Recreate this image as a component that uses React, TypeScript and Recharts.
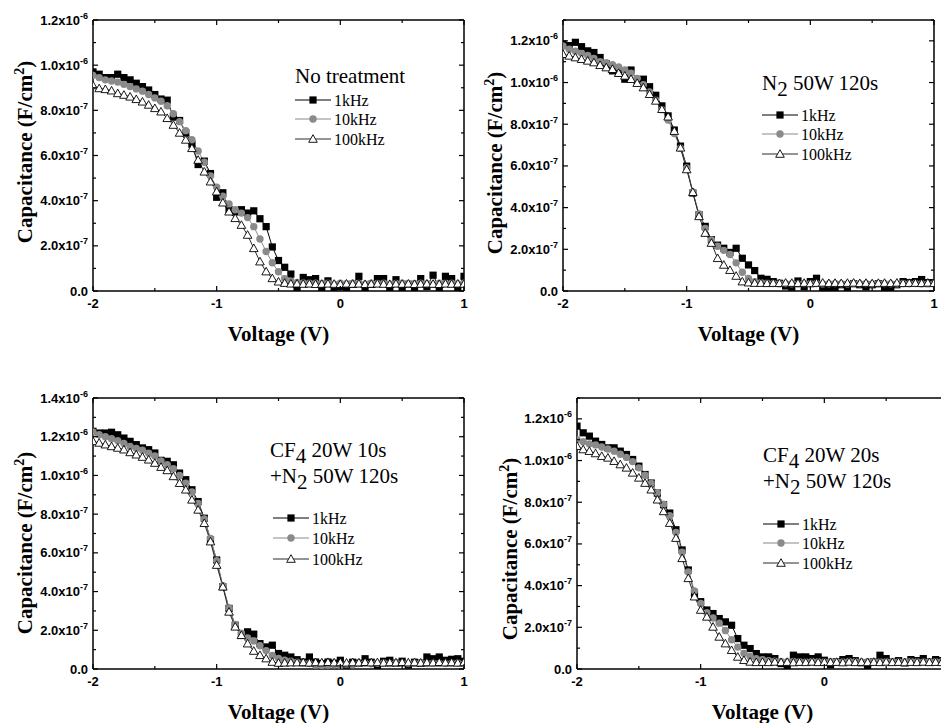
import React from 'react';
import { LineChart, Line, XAxis, YAxis } from 'recharts';

// gate voltage (V)
const voltage = [
  -2, -1.95, -1.9, -1.85, -1.8, -1.75, -1.7, -1.65, -1.6, -1.55,
  -1.5, -1.45, -1.4, -1.35, -1.3, -1.25, -1.2, -1.15, -1.1, -1.05,
  -1, -0.95, -0.9, -0.85, -0.8, -0.75, -0.7, -0.65, -0.6, -0.55,
  -0.5, -0.45, -0.4, -0.35, -0.3, -0.25, -0.2, -0.15, -0.1, -0.05,
  0, 0.05, 0.1, 0.15, 0.2, 0.25, 0.3, 0.35, 0.4, 0.45,
  0.5, 0.55, 0.6, 0.65, 0.7, 0.75, 0.8, 0.85, 0.9, 0.95,
  1,
];

const seriesNames = ['1kHz', '10kHz', '100kHz'];

// capacitance, in units of 1e-7 F/cm2
const noTreat1k = [
  9.7, 9.6, 9.45, 9.45, 9.6, 9.45, 9.35, 9.2, 9.05, 8.9,
  8.7, 8.5, 8.45, 7.7, 7.55, 7.0, 6.5, 5.6, 5.75, 5.2,
  4.15, 4.35, 3.6, 3.5, 3.6, 3.45, 3.55, 3.2, 2.85, 1.95,
  1.35, 1.05, 0.75, 0.15, 0.6, 0.5, 0.55, 0.15, 0.45, 0.1,
  0.2, 0.1, 0.3, 0.65, 0.1, 0.3, 0.55, 0.55, 0.15, 0.5,
  0.1, 0.3, 0.1, 0.55, 0.2, 0.7, 0.15, 0.65, 0.55, 0.1,
  0.65,
];
const noTreat10k = [
  9.55, 9.45, 9.35, 9.3, 9.25, 9.15, 9.05, 8.95, 8.85, 8.7,
  8.55, 8.4, 8.2, 7.85, 7.5, 7.1, 6.7, 6.2, 5.7, 5.1,
  4.6, 4.2, 3.85, 3.6, 3.45, 3.25, 2.85, 2.3, 1.75, 1.25,
  0.85, 0.55, 0.42, 0.38, 0.36, 0.35, 0.35, 0.33, 0.35, 0.3,
  0.34, 0.32, 0.35, 0.33, 0.3, 0.34, 0.33, 0.35, 0.3, 0.33,
  0.34, 0.3, 0.33, 0.35, 0.32, 0.3, 0.34, 0.33, 0.35, 0.32,
  0.34,
];
const noTreat100k = [
  9.1, 8.97, 8.93, 8.87, 8.75, 8.68, 8.6, 8.49, 8.38, 8.24,
  8.09, 7.94, 7.65, 7.35, 7.0, 6.69, 6.32, 5.8, 5.28, 4.84,
  4.4, 3.91, 3.51, 3.22, 2.92, 2.48, 1.89, 1.3, 0.86, 0.56,
  0.41, 0.35, 0.32, 0.32, 0.31, 0.32, 0.3, 0.31, 0.32, 0.31,
  0.3, 0.32, 0.31, 0.32, 0.3, 0.31, 0.32, 0.31, 0.3, 0.32,
  0.31, 0.32, 0.3, 0.31, 0.32, 0.31, 0.3, 0.32, 0.31, 0.32,
  0.31,
];

const n2_1k = [
  11.85, 11.77, 11.93, 11.72, 11.52, 11.44, 11.2, 10.9, 10.56, 10.45,
  10.16, 10.6, 10.08, 10.16, 9.8, 9.39, 8.88, 8.4, 7.72, 6.95,
  5.99, 4.7, 3.66, 3.1, 2.46, 2.2, 2.05, 1.85, 2.05, 1.57,
  1.25, 0.98, 0.61, 0.56, 0.45, 0.37, 0.24, 0.18, 0.48, 0.2,
  0.45, 0.61, 0.13, 0.15, 0.1, 0.3, 0.15, 0.35, 0.3, 0.2,
  0.3, 0.35, 0.1, 0.15, 0.3, 0.45, 0.4, 0.45, 0.55, 0.4,
  0.4,
];
const n2_10k = [
  11.75, 11.6, 11.5, 11.4, 11.3, 11.15, 11.0, 10.95, 10.85, 10.75,
  10.6, 10.45, 10.2, 9.9, 9.55, 9.15, 8.7, 8.2, 7.55, 6.85,
  5.9, 4.75, 3.7, 3.0, 2.45, 2.15, 1.95, 1.75, 1.35, 0.9,
  0.6, 0.45, 0.4, 0.37, 0.36, 0.35, 0.36, 0.35, 0.34, 0.36,
  0.35, 0.36, 0.34, 0.35, 0.36, 0.35, 0.34, 0.36, 0.35, 0.36,
  0.34, 0.35, 0.36, 0.35, 0.34, 0.36, 0.35, 0.36, 0.35, 0.34,
  0.35,
];
const n2_100k = [
  11.36, 11.28, 11.2, 11.12, 11.04, 10.96, 10.83, 10.72, 10.64, 10.45,
  10.32, 10.16, 9.97, 9.76, 9.44, 9.12, 8.72, 8.36, 7.67, 6.87,
  5.83, 4.74, 3.58, 2.78, 2.3, 1.57, 1.25, 1.0, 0.72, 0.45,
  0.4, 0.38, 0.38, 0.37, 0.38, 0.37, 0.39, 0.38, 0.37, 0.38,
  0.36, 0.38, 0.39, 0.37, 0.38, 0.37, 0.38, 0.39, 0.37, 0.38,
  0.36, 0.38, 0.38, 0.37, 0.39, 0.37, 0.38, 0.38, 0.37, 0.39,
  0.37,
];

const cf10_1k = [
  12.28, 12.19, 12.19, 12.23, 12.1, 11.93, 11.76, 11.59, 11.42, 11.33,
  11.16, 10.78, 10.73, 10.55, 10.12, 9.78, 9.26, 8.65, 7.79, 6.67,
  5.63, 4.25, 3.13, 2.26, 1.74, 1.92, 1.8, 1.31, 1.14, 1.23,
  0.8, 0.71, 0.62, 0.48, 0.36, 0.62, 0.36, 0.28, 0.36, 0.3,
  0.45, 0.2, 0.35, 0.3, 0.53, 0.35, 0.15, 0.4, 0.45, 0.3,
  0.4, 0.2, 0.35, 0.3, 0.62, 0.53, 0.62, 0.45, 0.5, 0.53,
  0.4,
];
const cf10_10k = [
  12.25, 12.1, 12.0, 11.9, 11.8, 11.65, 11.5, 11.4, 11.3, 11.15,
  11.0, 10.75, 10.55, 10.35, 10.0, 9.6, 9.15, 8.55, 7.75, 6.75,
  5.6, 4.3, 3.15, 2.3, 1.85, 1.6, 1.45, 1.2, 0.95, 0.7,
  0.55, 0.45, 0.4, 0.35, 0.3, 0.28, 0.2, 0.18, 0.2, 0.22,
  0.2, 0.25, 0.22, 0.28, 0.3, 0.27, 0.3, 0.31, 0.28, 0.3,
  0.29, 0.28, 0.3, 0.31, 0.28, 0.3, 0.29, 0.28, 0.3, 0.31,
  0.28,
];
const cf10_100k = [
  11.76, 11.68, 11.59, 11.5, 11.42, 11.33, 11.19, 11.07, 10.95, 10.81,
  10.64, 10.43, 10.26, 9.95, 9.6, 9.26, 8.74, 8.22, 7.53, 6.58,
  5.37, 4.25, 2.95, 2.18, 1.74, 1.31, 0.93, 0.71, 0.54, 0.36,
  0.31, 0.32, 0.33, 0.33, 0.34, 0.32, 0.34, 0.33, 0.35, 0.33,
  0.34, 0.32, 0.34, 0.33, 0.35, 0.33, 0.34, 0.32, 0.34, 0.33,
  0.35, 0.33, 0.34, 0.32, 0.34, 0.33, 0.35, 0.33, 0.34, 0.32,
  0.34,
];

const cf20_1k = [
  11.65, 11.33, 11.17, 10.93, 10.77, 10.61, 10.61, 10.45, 10.29, 10.05,
  9.73, 9.33, 8.92, 8.44, 7.88, 7.48, 6.68, 5.71, 4.75, 3.63,
  3.23, 2.83, 2.66, 2.42, 2.26, 2.1, 1.46, 1.14, 0.98, 0.74,
  0.58, 0.58, 0.5, 0.26, 0.1, 0.66, 0.58, 0.58, 0.5, 0.58,
  0.42, 0.2, 0.35, 0.45, 0.5, 0.4, 0.3, 0.1, 0.35, 0.66,
  0.5, 0.35, 0.4, 0.3, 0.45, 0.4, 0.5, 0.35, 0.45, 0.4,
  0.35,
];
const cf20_10k = [
  11.0, 10.9, 10.8, 10.75, 10.65, 10.55, 10.45, 10.3, 10.15, 9.95,
  9.65, 9.3, 8.9, 8.45, 7.9, 7.35, 6.55, 5.6, 4.65, 3.75,
  3.15, 2.7, 2.45, 2.2, 1.85, 1.4, 1.05, 0.75, 0.6, 0.5,
  0.45, 0.4, 0.38, 0.36, 0.35, 0.36, 0.35, 0.34, 0.36, 0.35,
  0.34, 0.36, 0.35, 0.34, 0.36, 0.35, 0.34, 0.35, 0.36, 0.34,
  0.35, 0.36, 0.34, 0.35, 0.36, 0.35, 0.34, 0.36, 0.35, 0.34,
  0.35,
];
const cf20_100k = [
  10.69, 10.53, 10.45, 10.34, 10.21, 10.13, 9.97, 9.81, 9.65, 9.41,
  9.17, 8.92, 8.6, 8.12, 7.56, 7.0, 6.28, 5.31, 4.35, 3.47,
  2.83, 2.5, 2.02, 1.54, 1.22, 0.9, 0.58, 0.42, 0.34, 0.32,
  0.33, 0.32, 0.34, 0.32, 0.33, 0.31, 0.33, 0.32, 0.34, 0.32,
  0.33, 0.32, 0.33, 0.31, 0.34, 0.32, 0.33, 0.32, 0.33, 0.32,
  0.34, 0.32, 0.33, 0.31, 0.33, 0.32, 0.34, 0.32, 0.33, 0.32,
  0.33,
];

const xTicks = [-2, -1.5, -1, -0.5, 0, 0.5, 1];
const xTickLabels = ['-2', '', '-1', '', '0', '', '1'];

// y tick labels indexed by tick value (1e-7 units)
const yTickText = ['0.0', '', '2.0x10', '', '4.0x10', '', '6.0x10', '', '8.0x10', '', '1.0x10', '', '1.2x10', '', '1.4x10'];
const yTickExp = ['', '', '-7', '', '-7', '', '-7', '', '-7', '', '-6', '', '-6', '', '-6'];

const colors = ['#000000', '#8a8a8a', '#2a2a2a'];
const SANS = '"Liberation Sans", Arial, sans-serif';
const SERIF = '"Liberation Serif", "Times New Roman", serif';

const PAGE_W = 941;
const CHART_W = 470;
const CHART_H = 360;

type Seg = { t: string; sub?: boolean };

interface Panel {
  left: number;
  top: number;
  yMax: number;
  series: number[][];
  title: Seg[][];
  titleX: number;
  titleY: number[];
  legX: number;
  legY: number[];
  yTitle: [number, number];
}

const panels: Panel[] = [
  {
    left: 0, top: 0, yMax: 12,
    series: [noTreat1k, noTreat10k, noTreat100k],
    title: [[{ t: 'No treatment' }]],
    titleX: 295, titleY: [83],
    legX: 295, legY: [100, 119, 139],
    yTitle: [25, 152],
  },
  {
    left: 470, top: 0, yMax: 13,
    series: [n2_1k, n2_10k, n2_100k],
    title: [[{ t: 'N' }, { t: '2', sub: true }, { t: ' 50W 120s' }]],
    titleX: 292, titleY: [90],
    legX: 292, legY: [115, 134, 154],
    yTitle: [25, 163],
  },
  {
    left: 0, top: 378, yMax: 14,
    series: [cf10_1k, cf10_10k, cf10_100k],
    title: [
      [{ t: 'CF' }, { t: '4', sub: true }, { t: ' 20W 10s' }],
      [{ t: '+N' }, { t: '2', sub: true }, { t: ' 50W 120s' }],
    ],
    titleX: 270, titleY: [79, 105],
    legX: 273, legY: [140, 160, 181],
    yTitle: [25, 165],
  },
  {
    left: 484, top: 378, yMax: 13,
    series: [cf20_1k, cf20_10k, cf20_100k],
    title: [
      [{ t: 'CF' }, { t: '4', sub: true }, { t: ' 20W 20s' }],
      [{ t: '+N' }, { t: '2', sub: true }, { t: ' 50W 120s' }],
    ],
    titleX: 279, titleY: [84, 110],
    legX: 279, legY: [146, 165, 185],
    yTitle: [26, 171],
  },
];

const Square = ({ cx, cy }: { cx: number; cy: number }) => (
  <rect x={cx - 3.6} y={cy - 3.6} width={7.2} height={7.2} fill="#000" />
);
const Round = ({ cx, cy }: { cx: number; cy: number }) => (
  <circle cx={cx} cy={cy} r={3.7} fill="#8a8a8a" />
);
const Tri = ({ cx, cy }: { cx: number; cy: number }) => (
  <polygon
    points={`${cx},${cy - 4.3} ${cx - 4.3},${cy + 3.3} ${cx + 4.3},${cy + 3.3}`}
    fill="#fff"
    stroke="#000"
    strokeWidth={0.9}
  />
);
const markers = [Square, Round, Tri];

const BottomTick = (props: any) => {
  const { x, y, payload, pageX } = props;
  const i = xTicks.indexOf(payload.value);
  const label = xTickLabels[i];
  // labels that would fall past the page edge are not drawn (as in the source figure)
  const showLabel = label && pageX + x + 6 <= PAGE_W;
  return (
    <g>
      <line x1={x} y1={y} x2={x} y2={y - (label ? 5 : 3)} stroke="#000" strokeWidth={1.2} />
      {showLabel && (
        <text x={x} y={y + 17} textAnchor="middle" fontFamily={SANS} fontWeight="bold" fontSize={13} fill="#000">
          {label}
        </text>
      )}
    </g>
  );
};

const TopTick = (props: any) => {
  const { x, y, payload } = props;
  const major = xTickLabels[xTicks.indexOf(payload.value)] !== '';
  return <line x1={x} y1={y} x2={x} y2={y + (major ? 5 : 3)} stroke="#000" strokeWidth={1.2} />;
};

const LeftTick = (props: any) => {
  const { x, y, payload } = props;
  const v = payload.value;
  const text = yTickText[v];
  const exp = yTickExp[v];
  return (
    <g>
      <line x1={x} y1={y} x2={x + (text ? 5 : 3)} y2={y} stroke="#000" strokeWidth={1.2} />
      {text && (
        <text x={x - 5} y={y + 4.5} textAnchor="end" fontFamily={SANS} fontWeight="bold" fontSize={13} fill="#000">
          {exp ? (
            <>
              <tspan>{text}</tspan>
              <tspan fontSize={9} dy={-6}>{exp}</tspan>
            </>
          ) : (
            text
          )}
        </text>
      )}
    </g>
  );
};

const RightTick = (props: any) => {
  const { x, y, payload } = props;
  const major = yTickText[payload.value] !== '';
  return <line x1={x} y1={y} x2={x - (major ? 5 : 3)} y2={y} stroke="#000" strokeWidth={1.2} />;
};

const TitleLine = ({ segs, x, y }: { segs: Seg[]; x: number; y: number }) => (
  <text x={x} y={y} fontFamily={SERIF} fontSize={21} fill="#000">
    {segs.map((s, i) => {
      const prevSub = i > 0 && segs[i - 1].sub;
      const dy = (s.sub ? 6 : 0) - (prevSub ? 6 : 0);
      return (
        <tspan key={i} dy={dy}>
          {s.t}
        </tspan>
      );
    })}
  </text>
);

const Overlay = ({ p }: { p: Panel }) => (
  <svg
    width={CHART_W}
    height={CHART_H}
    style={{ position: 'absolute', left: p.left, top: p.top, pointerEvents: 'none' }}
  >
    {p.title.map((segs, i) => (
      <TitleLine key={i} segs={segs} x={p.titleX} y={p.titleY[i]} />
    ))}
    {seriesNames.map((name, i) => {
      const M = markers[i];
      const y = p.legY[i];
      return (
        <g key={name}>
          <line x1={p.legX} y1={y} x2={p.legX + 36} y2={y} stroke={colors[i]} strokeWidth={1.2} />
          <M cx={p.legX + 18} cy={y} />
          <text x={p.legX + 39} y={y + 5.5} fontFamily={SERIF} fontSize={16} fill="#000">
            {name}
          </text>
        </g>
      );
    })}
  </svg>
);

const CVPanel = ({ p }: { p: Panel }) => {
  const rows = voltage.map((v, i) => ({ v, a: p.series[0][i], b: p.series[1][i], c: p.series[2][i] }));
  const yTicks = Array.from({ length: p.yMax + 1 }, (_, i) => i);
  const keys = ['a', 'b', 'c'];
  return (
    <div style={{ position: 'absolute', left: p.left, top: p.top, width: CHART_W, height: CHART_H }}>
      <LineChart width={CHART_W} height={CHART_H} data={rows} margin={{ top: 10, right: 0, bottom: 39, left: 0 }}>
        <XAxis
          dataKey="v"
          type="number"
          domain={[-2, 1]}
          ticks={xTicks}
          allowDataOverflow
          height={30}
          tickSize={0}
          tickMargin={0}
          tickLine={false}
          tick={(t: any) => <BottomTick {...t} pageX={p.left} />}
          axisLine={{ stroke: '#000', strokeWidth: 1.5 }}
          interval={0}
          label={() => (
            <text x={93 + 371 / 2} y={341} textAnchor="middle" fontFamily={SERIF} fontWeight="bold" fontSize={21} fill="#000">
              Voltage (V)
            </text>
          )}
        />
        <XAxis
          xAxisId="top"
          orientation="top"
          dataKey="v"
          type="number"
          domain={[-2, 1]}
          ticks={xTicks}
          allowDataOverflow
          height={10}
          tickSize={0}
          tickMargin={0}
          tickLine={false}
          tick={(t: any) => <TopTick {...t} />}
          axisLine={{ stroke: '#000', strokeWidth: 1.5 }}
          interval={0}
        />
        <YAxis
          type="number"
          domain={[0, p.yMax]}
          ticks={yTicks}
          allowDataOverflow
          width={93}
          tickSize={0}
          tickMargin={0}
          tickLine={false}
          tick={(t: any) => <LeftTick {...t} />}
          axisLine={{ stroke: '#000', strokeWidth: 1.5 }}
          interval={0}
          label={() => (
            <text
              x={p.yTitle[0]}
              y={p.yTitle[1] + 7}
              transform={`rotate(-90 ${p.yTitle[0]} ${p.yTitle[1]})`}
              textAnchor="middle"
              fontFamily={SERIF}
              fontWeight="bold"
              fontSize={21}
              fill="#000"
            >
              <tspan>Capacitance (F/cm</tspan>
              <tspan fontSize={14} dy={-8}>2</tspan>
              <tspan dy={8}>)</tspan>
            </text>
          )}
        />
        <YAxis
          yAxisId="right"
          orientation="right"
          type="number"
          domain={[0, p.yMax]}
          ticks={yTicks}
          allowDataOverflow
          width={6}
          tickSize={0}
          tickMargin={0}
          tickLine={false}
          tick={(t: any) => <RightTick {...t} />}
          axisLine={{ stroke: '#000', strokeWidth: 1.5 }}
          interval={0}
        />
        {keys.map((k, i) => {
          const M = markers[i];
          return (
            <Line
              key={k}
              dataKey={k}
              name={seriesNames[i]}
              type="linear"
              stroke={colors[i]}
              strokeWidth={1}
              isAnimationActive={false}
              activeDot={false}
              dot={(d: any) => <M key={`${k}-${d.index}`} cx={d.cx} cy={d.cy} />}
            />
          );
        })}
      </LineChart>
    </div>
  );
};

export default function App() {
  return (
    <div
      style={{
        position: 'absolute',
        left: 0,
        top: 0,
        width: PAGE_W,
        height: 723,
        overflow: 'hidden',
        background: '#fff',
      }}
    >
      {panels.map((p, i) => (
        <React.Fragment key={i}>
          <CVPanel p={p} />
          <Overlay p={p} />
        </React.Fragment>
      ))}
    </div>
  );
}
